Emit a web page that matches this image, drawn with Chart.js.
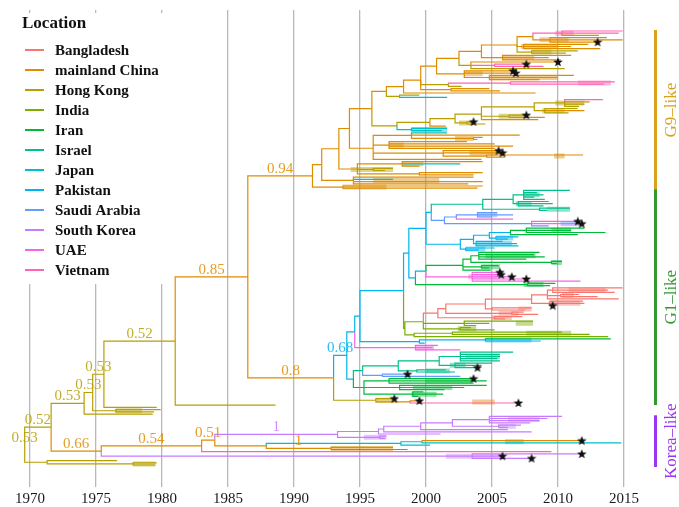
<!DOCTYPE html>
<html>
<head>
<meta charset="utf-8">
<script src="https://cdn.jsdelivr.net/npm/chart.js@4.4.1/dist/chart.umd.min.js"></script>
<style>
  body { margin: 0; background: #fff; }
  #wrap { width: 679px; height: 507px; position: relative; }
</style>
</head>
<body>
<div id="wrap"><canvas id="tree"></canvas></div>
<script>
// Locations (legend order) and colours
const locations = ['Bangladesh', 'mainland China', 'Hong Kong', 'India', 'Iran', 'Israel', 'Japan', 'Pakistan', 'Saudi Arabia', 'South Korea', 'UAE', 'Vietnam'];
const locCodes = ['bd', 'cn', 'hk', 'in', 'ir', 'il', 'jp', 'pk', 'sa', 'kr', 'ae', 'vn'];
const locColors = ['#F8766D', '#DE8C00', '#B79F00', '#7CAE00', '#00BA38', '#00C08B', '#00BFC4', '#00B4F0', '#619CFF', '#C77CFF', '#F564E3', '#FF64B0'];
const yearTicks = [1970, 1975, 1980, 1985, 1990, 1995, 2000, 2005, 2010, 2015];

// Tree nodes: leaf = year (same location as parent) | [year, loc] | [year, loc, 1] (starred)
// internal = [year, loc, [children], support, hpdFrom, hpdTo]
const g9Top = [1997.0, 'cn', [
  [1998.3, 'cn', [
    [1999.6, 'cn', [
      [2000.8, 'cn', [
        [2002.5, 'cn', [
          [2004.2, 'cn', [
            [2006.9, 'cn', [
              [2008.1, 'cn', [
                [2010.3, 'vn', [2014.9, 2014.6, [2013.1, 'cn']], '', 2009.8, 2011.2],
                [2009.4, 'cn', [2013.7, 2014.9, [2013.0, 'cn', 1]], '', 2008.6, 2010.8]
              ]],
              [2007.4, 'cn', [2012.3, 2011.0, 2013.2], '', 2007.2, 2010.0],
              [2008.0, 'hk', [2011.5, 2010.6], '', 2008.0, 2009.5]
            ]],
            [2005.8, 'cn', [2011.0, 2009.3, 2010.2], '', 2005.8, 2008.2]
          ]],
          [2003.4, 'hk', [[2010.0, 'cn', 1], [2005.2, 'vn', [[2007.6, 'vn', 1], 2008.9]], 2010.5]]
        ]],
        [2002.9, 'cn', [[2006.6, 'cn', 1], [2006.8, 'cn', 1], [2004.8, 'cn', [2011.2, 2010.0, 2008.6], '', 2004.8, 2010.0]], '', 2002.9, 2004.3]
      ]],
      [2001.7, 'hk', [[2006.4, 'vn', [2014.3, 2013.5], '', 2011.5, 2014.0], 2002.7]],
      [2001.9, 'cn', [2004.8, 2005.6]]
    ]],
    [2008.3, 'cn']
  ]],
  [1998.0, 'hk', [1999.5, [2001.6, 'jp']]]
]];

const g9Olive = [1997.8, 'hk', [
  [2000.3, 'hk', [
    [2002.2, 'hk', [
      [2004.2, 'hk', [
        [2008.2, 'hk', [
          [2010.5, 'hk', [[2013.4, 'vn'], 2012.4, 2012.0, 2011.6], '', 2009.8, 2012.0],
          [2009.0, 'hk', [2011.5, [2012.0, 'cn'], 2010.8], '', 2008.8, 2010.5]
        ]],
        [2006.3, 'hk', [[2007.6, 'hk', 1], [2009.0, 'cn']], '', 2005.5, 2007.5],
        [2008.5, 'cn']
      ]],
      [2003.1, 'hk', [[2003.6, 'hk', 1], 2004.5], '', 2002.5, 2003.6]
    ]],
    [2001.5, 'cn']
  ]],
  [1998.9, 'jp', [2001.6, 2001.2], '', 1998.9, 2001.6]
]];

const g9Mid = [1996.0, 'cn', [
  [1998.9, 'cn', [[2001.6, 'jp'], 2007.1, [2003.6, 'cn', [2004.3, 2003.9], '', 2002.2, 2003.6]]],
  [1997.2, 'cn', [2003.1, 2005.2, 2006.6, 2005.2], '', 1997.2, 1998.3],
  [2001.3, 'cn', [[2005.5, 'cn', 1], [2005.8, 'cn', 1], [2004.6, 'cn', [2011.9, 2006.0], '', 2009.7, 2010.5]], '', 2003.3, 2005.4],
  2004.2
]];

const g9Side = [1994.8, 'cn', [
  [1998.2, 'cn', [2004.3, [2002.6, 'jp'], 1999.5], '', 1998.2, 1999.8],
  [1996.0, 'hk', [1997.5, 1996.9], '', 1994.3, 1997.5],
  [1999.5, 'cn', [2004.3, 2003.6]]
]];
const g9Base1 = [1994.5, 'cn', [2003.6, [1997.5, 'jp'], 2004.3, 2003.2], '', 1996.0, 2001.0];
const g9Base2 = [1993.7, 'cn', [2004.3, 2003.9], '', 1993.7, 1997.0];

const g9Clade = [1991.4, 'cn', [
  [1992.1, 'cn', [
    [1993.4, 'cn', [
      [1994.2, 'cn', [[1995.9, 'cn', [g9Top, g9Olive]], g9Mid]],
      g9Side
    ]],
    g9Base1
  ]],
  g9Base2
], '0.94'];

// G1-like lineages
const israelClade = [2004.3, 'il', [
  [2006.6, 'il', [
    [2007.4, 'il', [2010.9, 2008.4, 2008.9, 2008.2, 2009.0], '', 2007.4, 2008.6],
    [2007.0, 'il', [2009.3, 2009.6, 2008.9], '', 2006.8, 2008.0]
  ]],
  [2008.6, 'il', [2010.9, 2009.2], '', 2009.2, 2010.9]
]];
const saudiClade = [2001.4, 'sa', [
  [2002.3, 'sa', [[2003.9, 'sa', [2005.4, 2006.6, 2005.0], '', 2003.9, 2005.4], [2006.6, 'ae']]],
  [2008.0, 'sa', [[2011.5, 'ae', 1], [2011.8, 'ae', 1], 2009.3], '', 2010.2, 2011.6]
]];
const pakistanClade = [2002.6, 'pk', [
  [2003.6, 'pk', [
    [2004.8, 'pk', [
      [2006.4, 'pk', [[2007.6, 'ir', [2012.0, 2011.0, 2013.6], '', 2009.5, 2011.0], [2011.5, 'ir']]],
      [2005.3, 'pk', [2007.0, 2006.2], '', 2005.3, 2006.6]
    ]],
    [2003.8, 'pk', [2005.8, 2006.9, [2007.0, 'jp']], '', 2003.8, 2006.5]
  ]],
  [2003.0, 'pk', [2005.2, 2004.0], '', 2003.0, 2004.5]
]];
const iranClade = [2002.8, 'ir', [
  [2003.4, 'ir', [
    [2004.0, 'ir', [2008.6, 2008.2, 2009.0, 2007.6], '', 2004.5, 2008.3],
    [2009.5, 'ir', [2010.3, 2009.9], '', 2009.5, 2010.3]
  ]],
  [2004.2, 'ir', [2005.5, 2004.8], '', 2004.2, 2005.6],
  2004.9
]];
const uaeClade = [2003.5, 'ae', [[2005.6, 'ae', 1], [2005.7, 'ae', 1], [2006.5, 'ae', 1], [2007.6, 'ae', 1], 2011.7], '', 2003.2, 2005.4];
const bdClade = [2000.9, 'bd', [
  [2001.5, 'bd', [
    [2004.5, 'bd', [
      [2008.0, 'bd', [
        [2009.2, 'bd', [
          [2009.6, 'bd', [2014.9, 2013.8, 2014.3], '', 2010.8, 2013.6],
          [2010.2, 'bd', [2011.6, 2013.0], '', 2010.3, 2011.2],
          2014.6
        ]],
        [2009.4, 'bd', [2011.9, 2012.0, [2009.6, 'bd', 1]], '', 2009.3, 2011.7]
      ]],
      [2005.0, 'bd', [2008.0, 2007.5], '', 2007.0, 2008.0]
    ]],
    [2006.5, 'bd', [2007.4, 2008.5], '', 2005.5, 2007.0]
  ]],
  [2005.2, 'bd', [2007.3, 2006.0], '', 2005.0, 2006.5]
]];
const indiaClade = [1998.4, 'in', [
  [1999.8, 'in', [
    bdClade,
    [2002.9, 'in', [2008.1, 2004.8, 2003.8], '', 2006.8, 2008.1],
    [2002.6, 'in', [2003.4, 2005.2], '', 2002.4, 2003.8]
  ]],
  [1999.1, 'in', [[2002.0, 'in', [2010.3, 2012.4], '', 2007.6, 2011.0], 2013.8]]
]];
const pkLow = [1999.5, 'pk', [[2004.5, 'pk', [[2014.0, 'ir'], 2008.7], '', 2004.5, 2008.0], 1999.9]];
const uaeLow = [1999.2, 'ae', [2000.9, 2000.5, 2002.6], '', 1999.2, 2000.6];
const greenLow = [1994.5, 'pk', [
  [1995.2, 'il', [
    [1997.9, 'il', [
      [2001.0, 'il', [
        [2002.6, 'il', [2006.6, 2005.6, 2005.6, 2005.4, 2005.6], '', 2003.0, 2005.6],
        [2002.2, 'il', [2005.0, 2004.2, [2003.9, 'il', 1]], '', 2001.8, 2003.0]
      ]],
      [1999.3, 'il', [2001.5, 2002.2], '', 2000.0, 2001.8]
    ]],
    [1996.7, 'sa', [[1998.6, 'sa', 1], 2002.6]]
  ]],
  [1995.3, 'ir', [
    [1997.2, 'ir', [[2003.6, 'ir', 1], 2004.6, 2003.6], '', 2000.0, 2003.4],
    [1998.0, 'ir', [2004.6, 2002.9, 2001.4], '', 1999.0, 2002.0],
    [1999.0, 'ir', [1999.8, 2001.3, 1999.4], '', 1998.9, 2000.8]
  ]]
]];

const g1Clade = [1994.0, 'pk', [
  [1994.6, 'pk', [
    [1995.0, 'pk', [
      [1998.3, 'pk', [
        [1998.7, 'pk', [
          [2000.0, 'pk', [[2000.4, 'pk', [israelClade, saudiClade]], pakistanClade]],
          [1999.2, 'pk', [[2000.0, 'pk', [iranClade, uaeClade]], [2007.7, 'ir', [2009.8, 2009.4], '', 2007.4, 2008.9]]]
        ]],
        indiaClade
      ]],
      pkLow
    ]],
    uaeLow
  ]],
  greenLow
], '0.68'];

const oliveLineage = [1996.2, 'hk', [[1997.6, 'hk', 1], [1998.8, 'cn', [[1999.5, 'cn', 1], [2007.0, 'vn', 1]], '', 2003.5, 2005.2]], '', 1996.2, 1997.5];

// Korea-like lineages
const koreaClade = [1993.3, 'kr', [
  [1996.4, 'kr', [
    [1996.8, 'kr', [
      [1999.6, 'kr', [
        [2002.0, 'kr', [
          [2004.8, 'kr', [2010.3, 2009.2, 2008.6, 2007.9], '', 2006.2, 2008.6],
          [2005.5, 'kr', [2007.2, 2006.2], '', 2005.5, 2006.8]
        ]],
        2006.2
      ]],
      2008.0
    ]],
    2001.1
  ]],
  [1996.5, 'kr', [1997.0, 1996.9], '', 1995.3, 1997.0]
], '1'];
const cyanClade = [1987.9, 'cn', [
  [1998.1, 'jp', [[1999.7, 'jp', [[2011.8, 'cn', 1], 2014.8], '', 2006.0, 2007.4], 2000.3]],
  [1992.8, 'cn', [[1997.5, 'hk'], [1998.6, 'jp']], '1', 1992.8, 1997.5]
]];
const koreaLow = [2003.5, 'kr', [[2011.8, 'kr', 1], [2005.8, 'kr', 1], [2008.0, 'kr', 1]], '', 2001.5, 2005.8];
const rootLow = [1971.3, 'hk', [1976.6, [1977.8, 'hk', [1979.6, 1979.5], '', 1977.8, 1979.5]]];

const treeRoot = [1969.6, 'hk', [
  [1971.6, 'hk', [
    [1974.1, 'hk', [
      [1974.75, 'hk', [
        [1975.6, 'hk', [
          [1981.0, 'hk', [
            [1986.5, 'cn', [g9Clade, [1993.0, 'cn', [g1Clade, oliveLineage], '0.8']], '0.85'],
            [1988.6, 'hk']
          ], '0.52'],
          1979.6
        ], '0.53'],
        [1976.5, 'hk', [1979.9, 1979.4], '', 1976.5, 1978.5]
      ], '0.53'],
      1979.3
    ], '0.53'],
    [1975.4, 'cn', [
      [1983.0, 'cn', [[1984.0, 'cn', [koreaClade, cyanClade], '0.51'], [2009.5, 'vn']], '0.54'],
      koreaLow
    ], '0.66']
  ], '0.52'],
  rootLow
], '0.53'];

const cladeNames = ['G9–like', 'G1–like', 'Korea–like'];
const cladeFirst = [g9Clade, g1Clade, koreaClade];
const cladeLast = [g9Clade, oliveLineage, rootLow];
const cladeColors = ['#D9A21B', '#339933', '#9B35F5'];

// ---- build tree layout ----
const parsed = new Map();
function parse(node, parentLoc) {
  if (typeof node === 'number') return { x: node, loc: parentLoc, kids: [] };
  let n;
  if (Array.isArray(node[2])) {
    n = { x: node[0], loc: node[1], label: node[3] || '', lo: node[4], hi: node[5], kids: [] };
    n.kids = node[2].map(k => parse(k, node[1]));
  } else {
    n = { x: node[0], loc: node[1], star: node[2] === 1, kids: [] };
  }
  parsed.set(node, n);
  return n;
}
const root = parse(treeRoot, 'hk');

let tipCount = 0;
function place(n) {
  if (!n.kids.length) { n.y = tipCount++; n.first = n.last = n.y; return; }
  n.kids.forEach(place);
  n.y = n.kids.reduce((s, k) => s + k.y, 0) / n.kids.length;
  n.first = n.kids[0].first;
  n.last = n.kids[n.kids.length - 1].last;
}
place(root);

const branchData = locCodes.map(() => []);
const hpdData = locCodes.map(() => []);
const starData = [];
const supportLabels = [];
function walk(n, parent) {
  const i = locCodes.indexOf(n.loc);
  if (parent) {
    branchData[i].push({ x: parent.x, y: parent.y }, { x: parent.x, y: n.y }, { x: n.x, y: n.y }, { x: n.x, y: null });
  }
  if (n.lo != null) hpdData[i].push({ x: n.lo, y: n.y }, { x: n.hi, y: n.y }, { x: n.hi, y: null });
  if (n.star) starData.push({ x: n.x, y: n.y });
  if (n.label) supportLabels.push({ x: parent ? (parent.x + n.x) / 2 : n.x, y: n.y, text: n.label, color: locColors[i] });
  n.kids.forEach(k => walk(k, n));
}
walk(root, null);

// tip 0 sits at y=31px, last tip at y=465px, plot area 10..487
const step = (465 - 31) / (tipCount - 1);
const yMin = -(31 - 10) / step;
const yMax = (tipCount - 1) + (487 - 465) / step;

function fade(hex, a) {
  const v = parseInt(hex.slice(1), 16);
  return `rgba(${v >> 16}, ${(v >> 8) & 255}, ${v & 255}, ${a})`;
}

// filled star marker
const starImg = document.createElement('canvas');
starImg.width = 10; starImg.height = 10;
(function () {
  const c = starImg.getContext('2d');
  c.beginPath();
  for (let k = 0; k < 10; k++) {
    const r = k % 2 ? 2.1 : 5;
    const a = -Math.PI / 2 + k * Math.PI / 5;
    c.lineTo(5 + r * Math.cos(a), 5.3 + r * Math.sin(a));
  }
  c.closePath();
  c.fillStyle = '#111';
  c.fill();
})();

const datasets = [];
locCodes.forEach((code, i) => {
  datasets.push({ data: hpdData[i], borderColor: fade(locColors[i], 0.45), borderWidth: 5, borderCapStyle: 'butt', pointRadius: 0, spanGaps: false, order: 3 });
});
locCodes.forEach((code, i) => {
  datasets.push({ data: branchData[i], borderColor: locColors[i], borderWidth: 1.2, pointRadius: 0, spanGaps: false, order: 2 });
});
datasets.push({ data: starData, showLine: false, pointStyle: starImg, pointRadius: 5, order: 1 });

const SERIF = '"Liberation Serif", "DejaVu Serif", serif';

const decorations = {
  id: 'decorations',
  beforeDatasetsDraw(chart) {
    const ctx = chart.ctx;
    ctx.save();
    // legend box
    ctx.fillStyle = '#fff';
    ctx.fillRect(0, 13, 200, 271);
    ctx.fillStyle = '#111';
    ctx.font = 'bold 17px ' + SERIF;
    ctx.textBaseline = 'middle';
    ctx.textAlign = 'left';
    ctx.fillText('Location', 22, 24);
    ctx.font = 'bold 15px ' + SERIF;
    locations.forEach((name, i) => {
      const y = 50 + i * 20;
      ctx.strokeStyle = locColors[i];
      ctx.lineWidth = 2;
      ctx.beginPath();
      ctx.moveTo(25, y); ctx.lineTo(44, y);
      ctx.stroke();
      ctx.fillStyle = '#111';
      ctx.fillText(name, 55, y + 1);
    });
    ctx.restore();
  },
  afterDatasetsDraw(chart) {
    const ctx = chart.ctx;
    const xs = chart.scales.x, ys = chart.scales.y;
    ctx.save();
    ctx.font = '15px ' + SERIF;
    ctx.textAlign = 'center';
    ctx.textBaseline = 'alphabetic';
    supportLabels.forEach(l => {
      ctx.fillStyle = fade(l.color, 0.85);
      ctx.fillText(l.text, xs.getPixelForValue(l.x), ys.getPixelForValue(l.y) - 3);
    });
    // clade bars
    cladeNames.forEach((name, i) => {
      const top = ys.getPixelForValue(parsed.get(cladeFirst[i]).first) - 1;
      const bot = ys.getPixelForValue(parsed.get(cladeLast[i]).last) + 2;
      ctx.fillStyle = cladeColors[i];
      ctx.fillRect(654, top, 3, bot - top);
      ctx.save();
      ctx.translate(672, (top + bot) / 2);
      ctx.rotate(-Math.PI / 2);
      ctx.font = '17px ' + SERIF;
      ctx.textBaseline = 'middle';
      ctx.fillText(name, 0, 0);
      ctx.restore();
    });
    ctx.restore();
  }
};

new Chart(document.getElementById('tree'), {
  type: 'line',
  data: { datasets: datasets },
  options: {
    responsive: true,
    maintainAspectRatio: false,
    animation: false,
    layout: { autoPadding: false, padding: { top: 10, left: 0, right: 0, bottom: 0 } },
    plugins: { legend: { display: false }, tooltip: { enabled: false } },
    scales: {
      x: {
        type: 'linear',
        min: 1970 - 30 / 13.2,
        max: 1970 - 30 / 13.2 + 679 / 13.2,
        afterBuildTicks: (scale) => { scale.ticks = yearTicks.map(v => ({ value: v })); },
        afterFit: (scale) => { scale.height = 20; scale.paddingLeft = 0; scale.paddingRight = 0; },
        grid: { color: '#b8b8b8', lineWidth: 1.3, drawTicks: false },
        border: { display: false },
        ticks: { padding: 3, color: '#1a1a1a', font: { family: SERIF, size: 15 }, callback: (v) => String(v) }
      },
      y: { type: 'linear', reverse: true, display: false, min: yMin, max: yMax }
    }
  },
  plugins: [decorations]
});
</script>
</body>
</html>
